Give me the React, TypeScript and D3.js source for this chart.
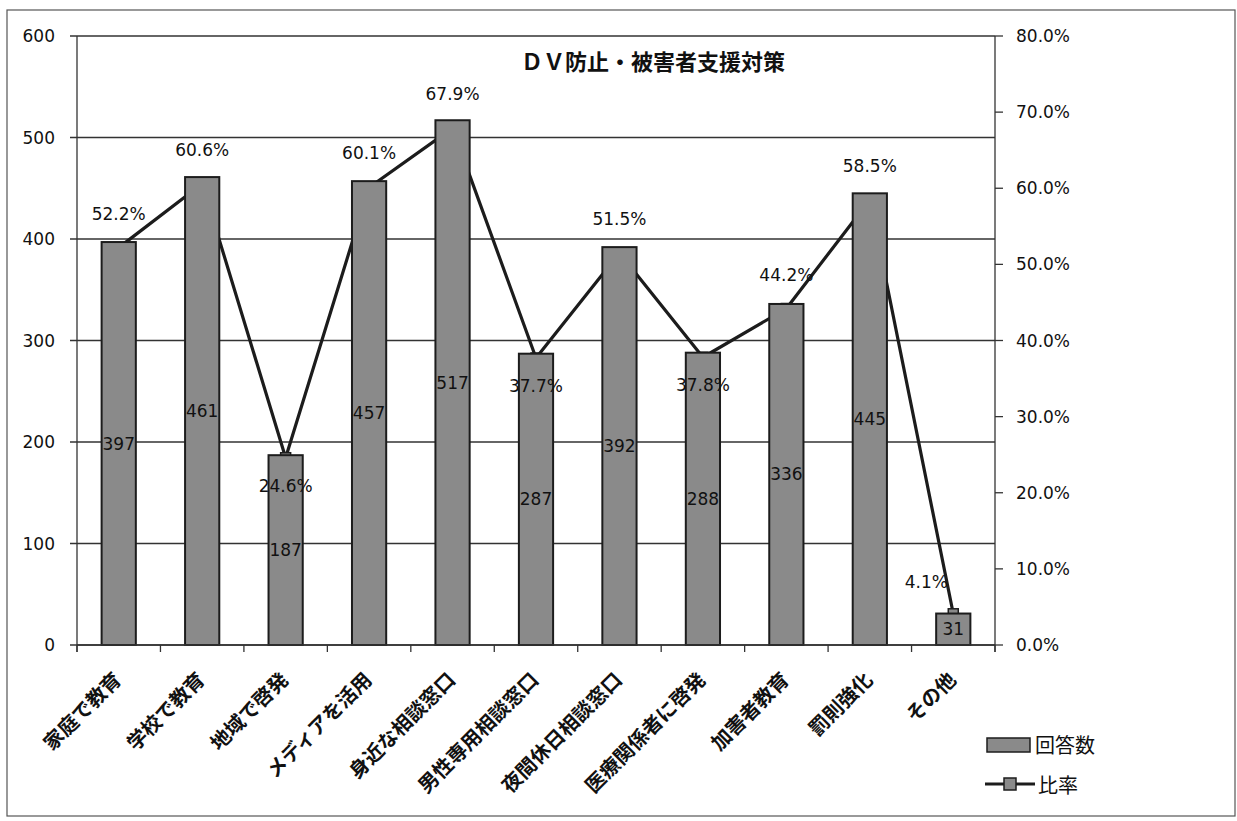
import React from 'react';
import * as d3 from 'd3';

const categories = [
  '家庭で教育',
  '学校で教育',
  '地域で啓発',
  'メディアを活用',
  '身近な相談窓口',
  '男性専用相談窓口',
  '夜間休日相談窓口',
  '医療関係者に啓発',
  '加害者教育',
  '罰則強化',
  'その他',
];
const counts = [397, 461, 187, 457, 517, 287, 392, 288, 336, 445, 31];
const ratios = [52.2, 60.6, 24.6, 60.1, 67.9, 37.7, 51.5, 37.8, 44.2, 58.5, 4.1];
const leftTicks = [0, 100, 200, 300, 400, 500, 600];
const rightTicks = [0, 10, 20, 30, 40, 50, 60, 70, 80];
const title = 'ＤＶ防止・被害者支援対策';
const seriesNames = ['回答数', '比率'];

const W = 1237;
const H = 821;
const L = 77;
const R = 995;
const T = 36;
const B = 645;

const NUM_FONT = '"DejaVu Sans", Verdana, sans-serif';
const JP_FONT = '"Noto Sans CJK JP", sans-serif';
const BAR_FILL = '#8a8a8a';
const DARK = '#1c1c1c';

export default function App() {
  const x = d3
    .scaleBand<string>()
    .domain(categories)
    .range([L, R])
    .paddingInner(0.59)
    .paddingOuter(0.295);
  const yL = d3.scaleLinear().domain([0, 600]).range([B, T]);
  const yR = d3.scaleLinear().domain([0, 80]).range([B, T]);
  const cx = (i: number) => (x(categories[i]) as number) + x.bandwidth() / 2;

  const lineGen = d3
    .line<number>()
    .x((_, i) => cx(i))
    .y((d) => yR(d));

  const step = x.step();
  const boundaries = d3.range(categories.length + 1).map((k) => L + k * step);

  const below = new Set([2, 5, 7]);
  const pctPos = (i: number) => {
    if (i === categories.length - 1) return { dx: -27, dy: -32 };
    if (below.has(i)) return { dx: 0, dy: 28 };
    return { dx: 0, dy: -34 };
  };

  return (
    <svg
      width={W}
      height={H}
      viewBox={`0 0 ${W} ${H}`}
      style={{ position: 'absolute', left: 0, top: 0, background: '#fff' }}
    >
      <rect x={0} y={0} width={W} height={H} fill="#fff" />
      <rect x={7} y={10} width={1228} height={806} fill="none" stroke="#555" strokeWidth={1.2} />

      {/* gridlines + left ticks */}
      {leftTicks.map((t) => (
        <g key={'g' + t}>
          <line x1={70} x2={R} y1={yL(t)} y2={yL(t)} stroke="#333" strokeWidth={1.3} />
          <text
            x={55}
            y={yL(t)}
            textAnchor="end"
            dominantBaseline="central"
            fontFamily={NUM_FONT}
            fontSize={17}
            fill="#111"
          >
            {t}
          </text>
        </g>
      ))}

      {/* title */}
      <text
        x={653}
        y={60}
        textAnchor="middle"
        dominantBaseline="central"
        fontFamily={JP_FONT}
        fontWeight={700}
        fontSize={22}
        fill="#111"
      >
        {title}
      </text>

      {/* ratio line behind bars */}
      <path d={lineGen(ratios) || ''} fill="none" stroke={DARK} strokeWidth={3.2} strokeLinejoin="round" />
      {ratios.map((r, i) => (
        <rect
          key={'m' + i}
          x={cx(i) - 5}
          y={yR(r) - 5}
          width={10}
          height={10}
          fill={BAR_FILL}
          stroke={DARK}
          strokeWidth={1.5}
        />
      ))}

      {/* bars */}
      {counts.map((c, i) => (
        <rect
          key={'b' + i}
          x={x(categories[i])}
          y={yL(c)}
          width={x.bandwidth()}
          height={B - yL(c)}
          fill={BAR_FILL}
          stroke={DARK}
          strokeWidth={2}
        />
      ))}

      {/* count labels */}
      {counts.map((c, i) => (
        <text
          key={'c' + i}
          x={cx(i)}
          y={(yL(c) + B) / 2}
          textAnchor="middle"
          dominantBaseline="central"
          fontFamily={NUM_FONT}
          fontSize={17}
          fill="#111"
        >
          {c}
        </text>
      ))}

      {/* ratio labels */}
      {ratios.map((r, i) => {
        const p = pctPos(i);
        return (
          <text
            key={'p' + i}
            x={cx(i) + p.dx}
            y={yR(r) + p.dy}
            textAnchor="middle"
            dominantBaseline="central"
            fontFamily={NUM_FONT}
            fontSize={17}
            fill="#111"
          >
            {r.toFixed(1)}%
          </text>
        );
      })}

      {/* axes */}
      <line x1={L} x2={L} y1={T} y2={B + 7} stroke="#333" strokeWidth={1.3} />
      <line x1={R} x2={R} y1={T} y2={B + 7} stroke="#333" strokeWidth={1.3} />
      <line x1={L} x2={R} y1={B} y2={B} stroke="#333" strokeWidth={1.5} />
      {boundaries.map((bx, k) => (
        <line key={'xt' + k} x1={bx} x2={bx} y1={B} y2={B + 7} stroke="#333" strokeWidth={1.3} />
      ))}
      {rightTicks.map((t) => (
        <g key={'r' + t}>
          <line x1={R} x2={R + 8} y1={yR(t)} y2={yR(t)} stroke="#333" strokeWidth={1.3} />
          <text
            x={1016}
            y={yR(t)}
            textAnchor="start"
            dominantBaseline="central"
            fontFamily={NUM_FONT}
            fontSize={17}
            fill="#111"
          >
            {t.toFixed(1)}%
          </text>
        </g>
      ))}

      {/* category labels */}
      {categories.map((c, i) => (
        <text
          key={'x' + i}
          transform={`translate(${cx(i) - 2},${675}) rotate(-45)`}
          textAnchor="end"
          dominantBaseline="central"
          fontFamily={JP_FONT}
          fontWeight={700}
          fontSize={20}
          fill="#111"
        >
          {c}
        </text>
      ))}

      {/* legend */}
      <rect x={987} y={738} width={43} height={14} fill={BAR_FILL} stroke={DARK} strokeWidth={1.5} />
      <text x={1035} y={744} dominantBaseline="central" fontFamily={JP_FONT} fontSize={20} fill="#111">
        {seriesNames[0]}
      </text>
      <line x1={985} x2={1035} y1={784} y2={784} stroke={DARK} strokeWidth={3} />
      <rect x={1004} y={778} width={12} height={12} fill={BAR_FILL} stroke={DARK} strokeWidth={1.5} />
      <text x={1038} y={784} dominantBaseline="central" fontFamily={JP_FONT} fontSize={20} fill="#111">
        {seriesNames[1]}
      </text>
    </svg>
  );
}
